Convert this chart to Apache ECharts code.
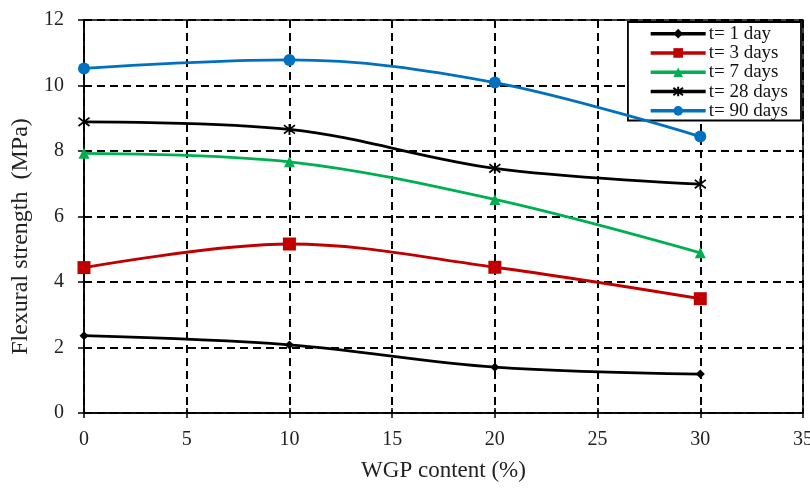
<!DOCTYPE html>
<html>
<head>
<meta charset="utf-8">
<script src="https://cdn.jsdelivr.net/npm/echarts@6/dist/echarts.min.js"></script>
<style>html,body{margin:0;padding:0;background:#fff}#c{width:810px;height:492px}</style>
</head>
<body>
<div id="c"></div>
<script>
var xValues = [0, 10, 20, 30];
var seriesNames = ['t= 1 day', 't= 3 days', 't= 7 days', 't= 28 days', 't= 90 days'];
var day1 = [2.36, 2.08, 1.40, 1.19];
var day3 = [4.44, 5.16, 4.45, 3.49];
var day7 = [7.93, 7.67, 6.52, 4.89];
var day28 = [8.89, 8.66, 7.47, 6.99];
var day90 = [10.52, 10.78, 10.09, 8.44];
var xTicks = [0, 5, 10, 15, 20, 25, 30, 35];
var yTicks = [0, 2, 4, 6, 8, 10, 12];

var font = 'Liberation Serif, Times New Roman, serif';
function pairs(v){ return xValues.map(function(x,i){ return [x, v[i]]; }); }
var star = 'path://M0,0L10,10M10,0L0,10M5,-1.5L5,11.5';

var styles = [
  {color:'#000000', symbol:'diamond', size:9},
  {color:'#C00000', symbol:'rect', size:13},
  {color:'#00B050', symbol:'triangle', size:11},
  {color:'#000000', symbol:star, size:11},
  {color:'#0070C0', symbol:'circle', size:12}
];
var data = [day1, day3, day7, day28, day90];

var series = data.map(function(d, i){
  var s = styles[i];
  var o = {
    name: seriesNames[i], type:'line', data: pairs(d), smooth: 0.35,
    symbol: s.symbol, symbolSize: s.size,
    lineStyle: {color: s.color, width: 2.8},
    itemStyle: {color: s.color},
    z: 5
  };
  if (i === 3) {
    o.itemStyle = {color: 'rgba(0,0,0,0)', borderColor: '#000', borderWidth: 1.8};
  }
  return o;
});

var chart = echarts.init(document.getElementById('c'), null, {renderer:'canvas'});
chart.setOption({
  animation: false,
  grid: {left: 84, right: 7, top: 20, bottom: 79, show: true, borderColor: '#000', borderWidth: 1.5,
    backgroundColor: 'transparent', containLabel: false, outerBoundsMode: 'none'},
  legend: {
    orient: 'vertical', right: 9, top: 22,
    data: seriesNames,
    itemWidth: 55, itemHeight: 12, itemGap: 0,
    backgroundColor: '#fff', borderColor: '#000', borderWidth: 1.8,
    padding: [2, 13, 0, 21],
    lineStyle: {width: 3.5},
    textStyle: {fontFamily: font, fontSize: 19, lineHeight: 19.3, color: '#111', padding: [0,0,0,-2]}
  },
  xAxis: [{
    type: 'value', min: 0, max: 35, interval: 5,
    name: 'WGP content (%)', nameLocation: 'middle', nameGap: 46,
    nameTextStyle: {fontFamily: font, fontSize: 23, color: '#222'},
    axisLine: {show: true, lineStyle: {color: '#000', width: 1.5}},
    axisTick: {show: true, length: 5, lineStyle: {color: '#000', width: 1.5}},
    axisLabel: {fontFamily: font, fontSize: 20, color: '#222', margin: 17,
      formatter: function(v){ return xTicks.indexOf(v) >= 0 ? String(v) : ''; }},
    splitLine: {show: true, lineStyle: {color: '#000', width: 2, type: [8, 5]}}
  }, {
    type: 'value', min: 0, max: 35, interval: 5, position: 'bottom',
    axisLine: {show: false}, axisLabel: {show: false}, splitLine: {show: false},
    axisTick: {show: true, inside: true, length: 5, lineStyle: {color: '#000', width: 1.5}}
  }],
  yAxis: [{
    type: 'value', min: 0, max: 12, interval: 2,
    name: 'Flexural strength  (MPa)', nameLocation: 'middle', nameGap: 46,
    nameTextStyle: {fontFamily: font, fontSize: 24, color: '#222', padding: [0, 40, 0, 0]},
    axisLine: {show: true, lineStyle: {color: '#000', width: 1.5}},
    axisTick: {show: true, length: 6, lineStyle: {color: '#000', width: 1.5}},
    axisLabel: {fontFamily: font, fontSize: 20, color: '#222', margin: 20,
      formatter: function(v){ return yTicks.indexOf(v) >= 0 ? String(v) : ''; }},
    splitLine: {show: true, lineStyle: {color: '#000', width: 2, type: [8, 5]}}
  }, {
    type: 'value', min: 0, max: 12, interval: 2, position: 'left',
    axisLine: {show: false}, axisLabel: {show: false}, splitLine: {show: false},
    axisTick: {show: true, inside: true, length: 6, lineStyle: {color: '#000', width: 1.5}}
  }],
  series: series
});
</script>
</body>
</html>
